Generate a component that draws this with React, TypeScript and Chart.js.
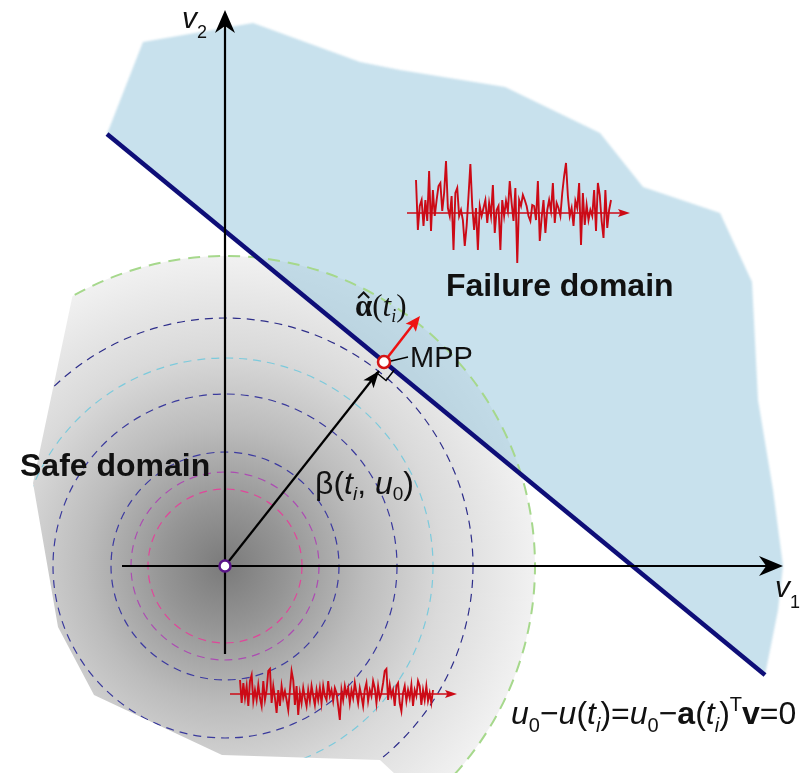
import { useEffect, useRef } from "react";
import { Chart, registerables } from "chart.js";

Chart.register(...registerables);

// ---- data (v-space units, origin of the standard normal space at 0,0) ----
const limitU = [-118, 540];
const limitV = [432, -109];
const mppPoint = [159, 204];
const alphaTip = [195, 250];
const betaTip = [154, 195];
const v1AxisU = [-103, 545];
const v2AxisV = [-88, 545];
const contourRadii = [77, 94, 114, 172, 208, 248];
const boundaryRadius = 310;
const boundaryArcDeg = [119, -50];
const failureU = [-118, -82, 28, 135, 175, 280, 375, 418, 495, 527, 533, 548, 558, 553, 540];
const failureV = [432, 524, 543, 504, 496, 479, 433, 379, 353, 284, 166, 76, 0, -44, -109];
const safeU = [-135, -192, -167, -131, -3, 155, 300, 420, 420, -135];
const safeV = [353, 83, -61, -129, -189, -194, -330, -330, 420, 420];
const noiseUpper = [
  33, -17, 7, 13, -13, 13, -8, 42, -18, 23,
  -3, 13, 27, 30, 2, 20, 52, 5, -3, 17,
  -37, 20, 25, -3, 3, -7, -33, -13, 17, 49,
  7, -17, 5, -37, 7, -3, 5, 13, -10, 10,
  -3, 28, -20, 3, 7, -37, 13, -3, 12, 2,
  32, 10, -8, 25, -50, 13, 7, 18, 13, 7,
  -3, -8, 8, 7, -7, 32, -28, -5, 13, -20,
  3, 13, 2, 30, -10, 10, 5, -3, 20, 37,
  50, 17, -3, 5, -13, 12, 5, 30, -32, 20,
  -12, 8, -7, 3, -3, 23, -18, 30, 18, -8,
  -25, 23, -15, 3, 13,
];
const noiseLower = [
  14, -9, 11, -4, 8, -12, 13, 19, -7, 4,
  -6, 9, -4, -12, 13, -6, 4, 23, 25, -9,
  8, -4, -19, 4, -12, 8, -4, 3, -6, -16,
  4, 23, 14, -11, 8, -21, 1, -9, 6, -4,
  -12, 4, -7, 8, -2, -11, 4, -6, 6, -9,
  8, -2, -6, 13, -2, 4, -7, 6, 1, -12,
  -26, 4, -6, 8, -1, 6, -9, 4, -4, 11,
  1, -9, 6, -2, -12, 4, 11, -7, 4, -2,
  13, 6, -9, 8, -4, 1, 11, 23, 25, -6,
  9, -2, 4, -12, 8, 11, -9, -17, 1, 8,
  -7, 4, -4, 9, -12, 4, -2, 13, 8, -11,
  4, -6, 8, -7, 1, -9, 4,
];
// inset signal frames: [u start, u end, baseline v, axis u start, axis u end]
const upperFrame = [191, 386, 353, 182, 405];
const lowerFrame = [15, 208, -128, 5, 232];

// ---- styles ----
const SANS = '"Liberation Sans", Arial, Helvetica, sans-serif';
const SERIF = '"Liberation Serif", "Times New Roman", serif';
const contourColors = ["#e0469a", "#ac4cb2", "#3c3aa0", "#3a3a9c", "#7ccadc", "#2e2e8a"];
const NAVY = "#0e0e78";
const RED = "#cc0a16";

type Run = { t: string; f: string; dy?: number };

function drawRuns(ctx: CanvasRenderingContext2D, x: number, y: number, rs: Run[], color = "#111") {
  ctx.fillStyle = color;
  ctx.textAlign = "left";
  ctx.textBaseline = "alphabetic";
  let cx = x;
  const spans: number[] = [];
  for (const r of rs) {
    ctx.font = r.f;
    spans.push(cx);
    ctx.fillText(r.t, cx, y + (r.dy || 0));
    cx += ctx.measureText(r.t).width;
  }
  spans.push(cx);
  return spans;
}

function arrowHead(
  ctx: CanvasRenderingContext2D,
  tx: number, ty: number, dx: number, dy: number,
  len: number, hw: number, notch: number, color: string
) {
  const L = Math.hypot(dx, dy);
  const ux = dx / L, uy = dy / L;
  const nx = -uy, ny = ux;
  const bx = tx - ux * len, by = ty - uy * len;
  ctx.beginPath();
  ctx.moveTo(tx, ty);
  ctx.lineTo(bx + nx * hw, by + ny * hw);
  ctx.lineTo(tx - ux * len * (1 - notch), ty - uy * len * (1 - notch));
  ctx.lineTo(bx - nx * hw, by - ny * hw);
  ctx.closePath();
  ctx.fillStyle = color;
  ctx.fill();
}

const diagramPlugin = {
  id: "diagram",
  beforeDatasetsDraw(chart: any) {
    const ctx: CanvasRenderingContext2D = chart.ctx;
    const sx = chart.scales.x, sy = chart.scales.y;
    const X = (u: number) => sx.getPixelForValue(u);
    const Y = (v: number) => sy.getPixelForValue(v);
    const cx = X(0), cy = Y(0);
    const R = X(boundaryRadius) - cx;

    const poly = (us: number[], vs: number[]) => {
      ctx.beginPath();
      us.forEach((u, i) => (i ? ctx.lineTo(X(u), Y(vs[i])) : ctx.moveTo(X(u), Y(vs[i]))));
      ctx.closePath();
    };

    // safe domain (gray radial gradient)
    ctx.save();
    ctx.beginPath();
    ctx.arc(cx, cy, R, 0, Math.PI * 2);
    ctx.clip();
    poly(safeU, safeV);
    ctx.clip();
    const g = ctx.createRadialGradient(cx, cy, 0, cx, cy, R);
    g.addColorStop(0, "#7a7a7a");
    g.addColorStop(0.2, "#959595");
    g.addColorStop(0.45, "#bcbcbc");
    g.addColorStop(0.7, "#dadada");
    g.addColorStop(1, "#f1f1f1");
    ctx.fillStyle = g;
    ctx.fillRect(0, 0, chart.width, chart.height);
    // contour circles
    ctx.setLineDash([8, 6]);
    ctx.lineWidth = 1.2;
    contourRadii.forEach((r, i) => {
      ctx.beginPath();
      ctx.strokeStyle = contourColors[i];
      ctx.arc(cx, cy, X(r) - cx, 0, Math.PI * 2);
      ctx.stroke();
    });
    ctx.restore();

    // failure domain
    ctx.save();
    ctx.filter = "blur(1.2px)";
    poly(failureU, failureV);
    ctx.fillStyle = "rgba(150,198,220,0.52)";
    ctx.fill();
    ctx.restore();

    // boundary arc (green dashed)
    ctx.save();
    ctx.setLineDash([12, 8]);
    ctx.lineWidth = 2;
    ctx.strokeStyle = "#a6d88c";
    ctx.beginPath();
    ctx.arc(cx, cy, R, (-boundaryArcDeg[0] * Math.PI) / 180, (-boundaryArcDeg[1] * Math.PI) / 180, false);
    ctx.stroke();
    ctx.restore();
  },
  afterDatasetsDraw(chart: any) {
    const ctx: CanvasRenderingContext2D = chart.ctx;
    const sx = chart.scales.x, sy = chart.scales.y;
    const X = (u: number) => sx.getPixelForValue(u);
    const Y = (v: number) => sy.getPixelForValue(v);
    ctx.save();
    ctx.setLineDash([]);

    // axis arrowheads
    arrowHead(ctx, X(0), Y(v2AxisV[1] + 11), 0, -1, 23, 10, 0.3, "#000");
    arrowHead(ctx, X(v1AxisU[1] + 13), Y(0), 1, 0, 24, 10, 0.3, "#000");
    // beta arrow
    arrowHead(ctx, X(betaTip[0]), Y(betaTip[1]), X(betaTip[0]) - X(0), Y(betaTip[1]) - Y(0), 17, 6.5, 0.25, "#000");
    // alpha arrow
    arrowHead(ctx, X(alphaTip[0]), Y(alphaTip[1]), X(alphaTip[0]) - X(mppPoint[0]), Y(alphaTip[1]) - Y(mppPoint[1]), 15, 6.5, 0.2, "#ee1111");
    // signal arrows
    arrowHead(ctx, X(upperFrame[4]), Y(upperFrame[2]), 1, 0, 12, 4, 0.2, RED);
    arrowHead(ctx, X(lowerFrame[4]), Y(lowerFrame[2]), 1, 0, 12, 4, 0.2, RED);

    // right-angle marker at MPP
    const bl = Math.hypot(mppPoint[0], mppPoint[1]);
    const bu = mppPoint[0] / bl, bv = mppPoint[1] / bl;
    const ll = Math.hypot(limitU[1] - limitU[0], limitV[1] - limitV[0]);
    const lu = (limitU[1] - limitU[0]) / ll, lv = (limitV[1] - limitV[0]) / ll;
    const m = 13;
    const p1 = [mppPoint[0] - m * bu, mppPoint[1] - m * bv];
    const p2 = [p1[0] + m * lu, p1[1] + m * lv];
    const p3 = [mppPoint[0] + m * lu, mppPoint[1] + m * lv];
    ctx.beginPath();
    ctx.moveTo(X(p1[0]), Y(p1[1]));
    ctx.lineTo(X(p2[0]), Y(p2[1]));
    ctx.lineTo(X(p3[0]), Y(p3[1]));
    ctx.strokeStyle = "#000";
    ctx.lineWidth = 1.5;
    ctx.stroke();

    // MPP leader
    ctx.beginPath();
    ctx.moveTo(X(mppPoint[0] + 7), Y(mppPoint[1] + 1));
    ctx.lineTo(X(mppPoint[0] + 24), Y(mppPoint[1] + 5));
    ctx.lineWidth = 1.3;
    ctx.stroke();

    // labels
    drawRuns(ctx, X(-205), Y(90), [{ t: "Safe domain", f: `bold 32px ${SANS}` }]);
    drawRuns(ctx, X(221), Y(270), [{ t: "Failure domain", f: `bold 32px ${SANS}` }]);
    drawRuns(ctx, X(185), Y(199), [{ t: "MPP", f: `29px ${SANS}` }]);

    drawRuns(ctx, X(90), Y(72), [
      { t: "β(", f: `32px ${SANS}` },
      { t: "t", f: `italic 32px ${SANS}` },
      { t: "i", f: `italic 19px ${SANS}`, dy: 6 },
      { t: ", ", f: `32px ${SANS}` },
      { t: "u", f: `italic 32px ${SANS}` },
      { t: "0", f: `19px ${SANS}`, dy: 6 },
      { t: ")", f: `32px ${SANS}` },
    ]);

    const aSpans = drawRuns(ctx, X(130), Y(250), [
      { t: "α", f: `bold 31px ${SERIF}` },
      { t: "(", f: `31px ${SERIF}` },
      { t: "t", f: `italic 31px ${SERIF}` },
      { t: "i", f: `italic 18px ${SERIF}`, dy: 6 },
      { t: ")", f: `31px ${SERIF}` },
    ]);
    const hc = (aSpans[0] + aSpans[1]) / 2;
    const by = Y(250) - 18;
    ctx.beginPath();
    ctx.moveTo(hc - 5.5, by);
    ctx.lineTo(hc, by - 5.5);
    ctx.lineTo(hc + 5.5, by);
    ctx.lineWidth = 2;
    ctx.strokeStyle = "#111";
    ctx.stroke();

    const I = `italic 32px ${SANS}`, Rr = `32px ${SANS}`, B = `bold 32px ${SANS}`;
    const S = `20px ${SANS}`, SI = `italic 20px ${SANS}`;
    drawRuns(ctx, X(286), Y(-158), [
      { t: "u", f: I }, { t: "0", f: S, dy: 8 }, { t: "−", f: Rr },
      { t: "u", f: I }, { t: "(", f: Rr }, { t: "t", f: I }, { t: "i", f: SI, dy: 8 }, { t: ")", f: Rr },
      { t: "=", f: Rr },
      { t: "u", f: I }, { t: "0", f: S, dy: 8 }, { t: "−", f: Rr },
      { t: "a", f: B }, { t: "(", f: Rr }, { t: "t", f: I }, { t: "i", f: SI, dy: 8 }, { t: ")", f: Rr },
      { t: "T", f: S, dy: -13 }, { t: "v", f: B }, { t: "=", f: Rr }, { t: "0", f: Rr },
    ]);

    drawRuns(ctx, X(-43), Y(538), [
      { t: "v", f: `italic 30px ${SANS}` },
      { t: "2", f: `18px ${SANS}`, dy: 10 },
    ]);
    drawRuns(ctx, X(550), Y(-31), [
      { t: "v", f: `italic 30px ${SANS}` },
      { t: "1", f: `18px ${SANS}`, dy: 11 },
    ]);
    ctx.restore();
  },
};

const pts = (us: number[], vs: number[]) => us.map((u, i) => ({ x: u, y: vs[i] }));
const signalPts = (vals: number[], f: number[]) =>
  vals.map((d, i) => ({ x: f[0] + (i * (f[1] - f[0])) / (vals.length - 1), y: f[2] + d }));

export default function App() {
  const ref = useRef<HTMLCanvasElement>(null);
  useEffect(() => {
    document.body.style.margin = "0";
    const canvas = ref.current!;
    const line = (data: any[], color: string, width: number, order: number) => ({
      data, showLine: true, borderColor: color, borderWidth: width, pointRadius: 0,
      fill: false, tension: 0, order, clip: false as any, borderJoinStyle: "miter" as any,
    });
    const chart = new Chart(canvas, {
      type: "scatter",
      data: {
        datasets: [
          {
            data: [{ x: 0, y: 0 }], pointRadius: 5.5, pointBorderWidth: 2.5,
            pointBackgroundColor: "#fff", pointBorderColor: "#5a1488", order: 0,
          } as any,
          {
            data: [{ x: mppPoint[0], y: mppPoint[1] }], pointRadius: 6, pointBorderWidth: 2.5,
            pointBackgroundColor: "#fff", pointBorderColor: "#d41515", order: 0,
          } as any,
          line(pts([0, betaTip[0]], [0, betaTip[1]]), "#000", 2.2, 1),
          line(pts([mppPoint[0], alphaTip[0] - 5], [mppPoint[1], alphaTip[1] - 6]), "#ee1111", 2.5, 1),
          line(pts([v1AxisU[0], v1AxisU[1]], [0, 0]), "#000", 2.2, 2),
          line(pts([0, 0], [v2AxisV[0], v2AxisV[1]]), "#000", 2.2, 2),
          line(pts(limitU, limitV), NAVY, 4.5, 3),
          line(signalPts(noiseUpper, upperFrame), RED, 1.9, 4),
          line(pts([upperFrame[3], upperFrame[4] - 4], [upperFrame[2], upperFrame[2]]), RED, 1.6, 4),
          line(signalPts(noiseLower, lowerFrame), RED, 1.9, 4),
          line(pts([lowerFrame[3], lowerFrame[4] - 4], [lowerFrame[2], lowerFrame[2]]), RED, 1.6, 4),
        ],
      },
      options: {
        responsive: false,
        animation: false,
        devicePixelRatio: 1,
        events: [],
        layout: { padding: 0, autoPadding: false },
        plugins: { legend: { display: false }, tooltip: { enabled: false } },
        scales: {
          x: { type: "linear", min: -225, max: 587, display: false },
          y: { type: "linear", min: -207, max: 566, display: false },
        },
      },
      plugins: [diagramPlugin as any],
    });
    return () => chart.destroy();
  }, []);
  return (
    <div style={{ position: "absolute", left: 0, top: 0, width: 812, height: 773, background: "#fff" }}>
      <canvas ref={ref} width={812} height={773} style={{ display: "block" }} />
    </div>
  );
}
